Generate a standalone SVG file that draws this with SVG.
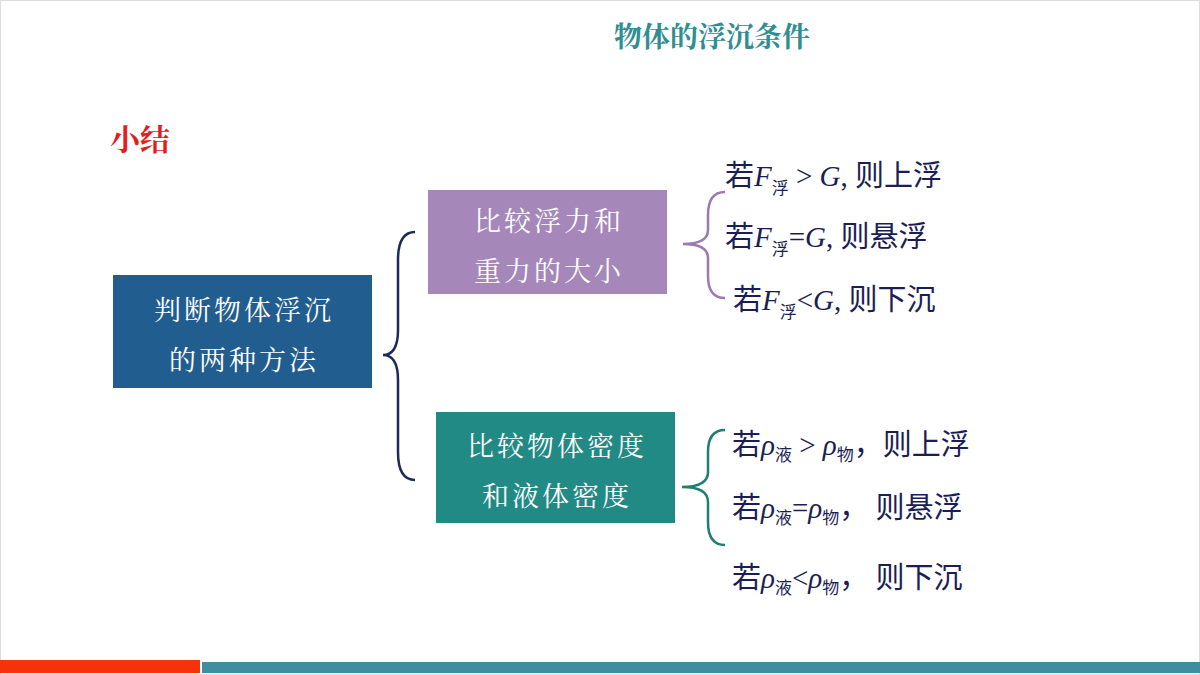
<svg xmlns="http://www.w3.org/2000/svg" width="1200" height="675" viewBox="0 0 1200 675">
<style>
.cn{font-family:"Noto Serif CJK SC","Noto Sans CJK SC",serif}
.bx{fill:#fff;font-size:27px;letter-spacing:3px;text-anchor:middle}
.r{fill:#1b1e55;font-size:29px;font-family:"Liberation Serif","Noto Sans CJK SC",serif}
.i{font-style:italic}
.s{font-size:17px}
.br{fill:none;stroke-width:2.5}
</style>
<rect width="1200" height="675" fill="#fff"/>
<rect x="0.5" y="0.5" width="1199" height="674" fill="none" stroke="#ddd"/>
<text x="712" y="47" class="cn" font-size="28" font-weight="bold" fill="#2f8e92" text-anchor="middle">物体的浮沉条件</text>
<text x="110" y="150" class="cn" font-size="30" font-weight="bold" fill="#e51c1c">小结</text>
<g id="connectors">
<path class="br" stroke="#1b2a5a" d="M415,232 Q398,232 398,260 L398,330 Q398,355 383,355 Q398,355 398,380 L398,452 Q398,480 415,480"/>
<path class="br" stroke="#9a7ab0" d="M725,192 Q708,192 708,215 L708,230 Q708,244 683,244 Q708,244 708,258 L708,276 Q708,298 725,298"/>
<path class="br" stroke="#1d7f70" d="M725,430 Q708,430 708,452 L708,472 Q708,487 682,487 Q708,487 708,502 L708,522 Q708,545 725,545"/>
</g>
<g id="n1"><rect x="113" y="275" width="259" height="113" fill="#215e8f"/>
<text class="cn bx" x="244" y="320">判断物体浮沉</text><text class="cn bx" x="244" y="370">的两种方法</text></g>
<g id="n2"><rect x="428" y="190" width="239" height="104" fill="#a587b9"/>
<text class="cn bx" x="549" y="231">比较浮力和</text><text class="cn bx" x="549" y="281">重力的大小</text></g>
<g id="n3"><rect x="436" y="412" width="239" height="111" fill="#228a84"/>
<text class="cn bx" x="557" y="456">比较物体密度</text><text class="cn bx" x="557" y="506">和液体密度</text></g>
<g id="r1"><text class="r" x="725" y="186">若<tspan class="i">F</tspan><tspan class="s" dy="8">浮</tspan><tspan dy="-8"> &gt; </tspan><tspan class="i">G</tspan>,  则上浮</text></g>
<g id="r2"><text class="r" x="725" y="247">若<tspan class="i">F</tspan><tspan class="s" dy="8">浮</tspan><tspan dy="-8">=</tspan><tspan class="i">G</tspan>,   则悬浮</text></g>
<g id="r3"><text class="r" x="733" y="310">若<tspan class="i">F</tspan><tspan class="s" dy="8">浮</tspan><tspan dy="-8">&lt;</tspan><tspan class="i">G</tspan>,   则下沉</text></g>
<g id="r4"><text class="r" x="732" y="455">若<tspan class="i">ρ</tspan><tspan class="s" dy="6">液</tspan><tspan dy="-6"> &gt; </tspan><tspan class="i">ρ</tspan><tspan class="s" dy="6">物</tspan><tspan dy="-6">，则上浮</tspan></text></g>
<g id="r5"><text class="r" x="732" y="518">若<tspan class="i">ρ</tspan><tspan class="s" dy="6">液</tspan><tspan dy="-6">=</tspan><tspan class="i">ρ</tspan><tspan class="s" dy="6">物</tspan><tspan dy="-6">，  则悬浮</tspan></text></g>
<g id="r6"><text class="r" x="732" y="588">若<tspan class="i">ρ</tspan><tspan class="s" dy="6">液</tspan><tspan dy="-6">&lt;</tspan><tspan class="i">ρ</tspan><tspan class="s" dy="6">物</tspan><tspan dy="-6">，  则下沉</tspan></text></g>
<rect x="0" y="660" width="200" height="13" fill="#f5320a"/>
<rect x="202" y="662" width="998" height="11" fill="#3d8f9f"/>
</svg>
